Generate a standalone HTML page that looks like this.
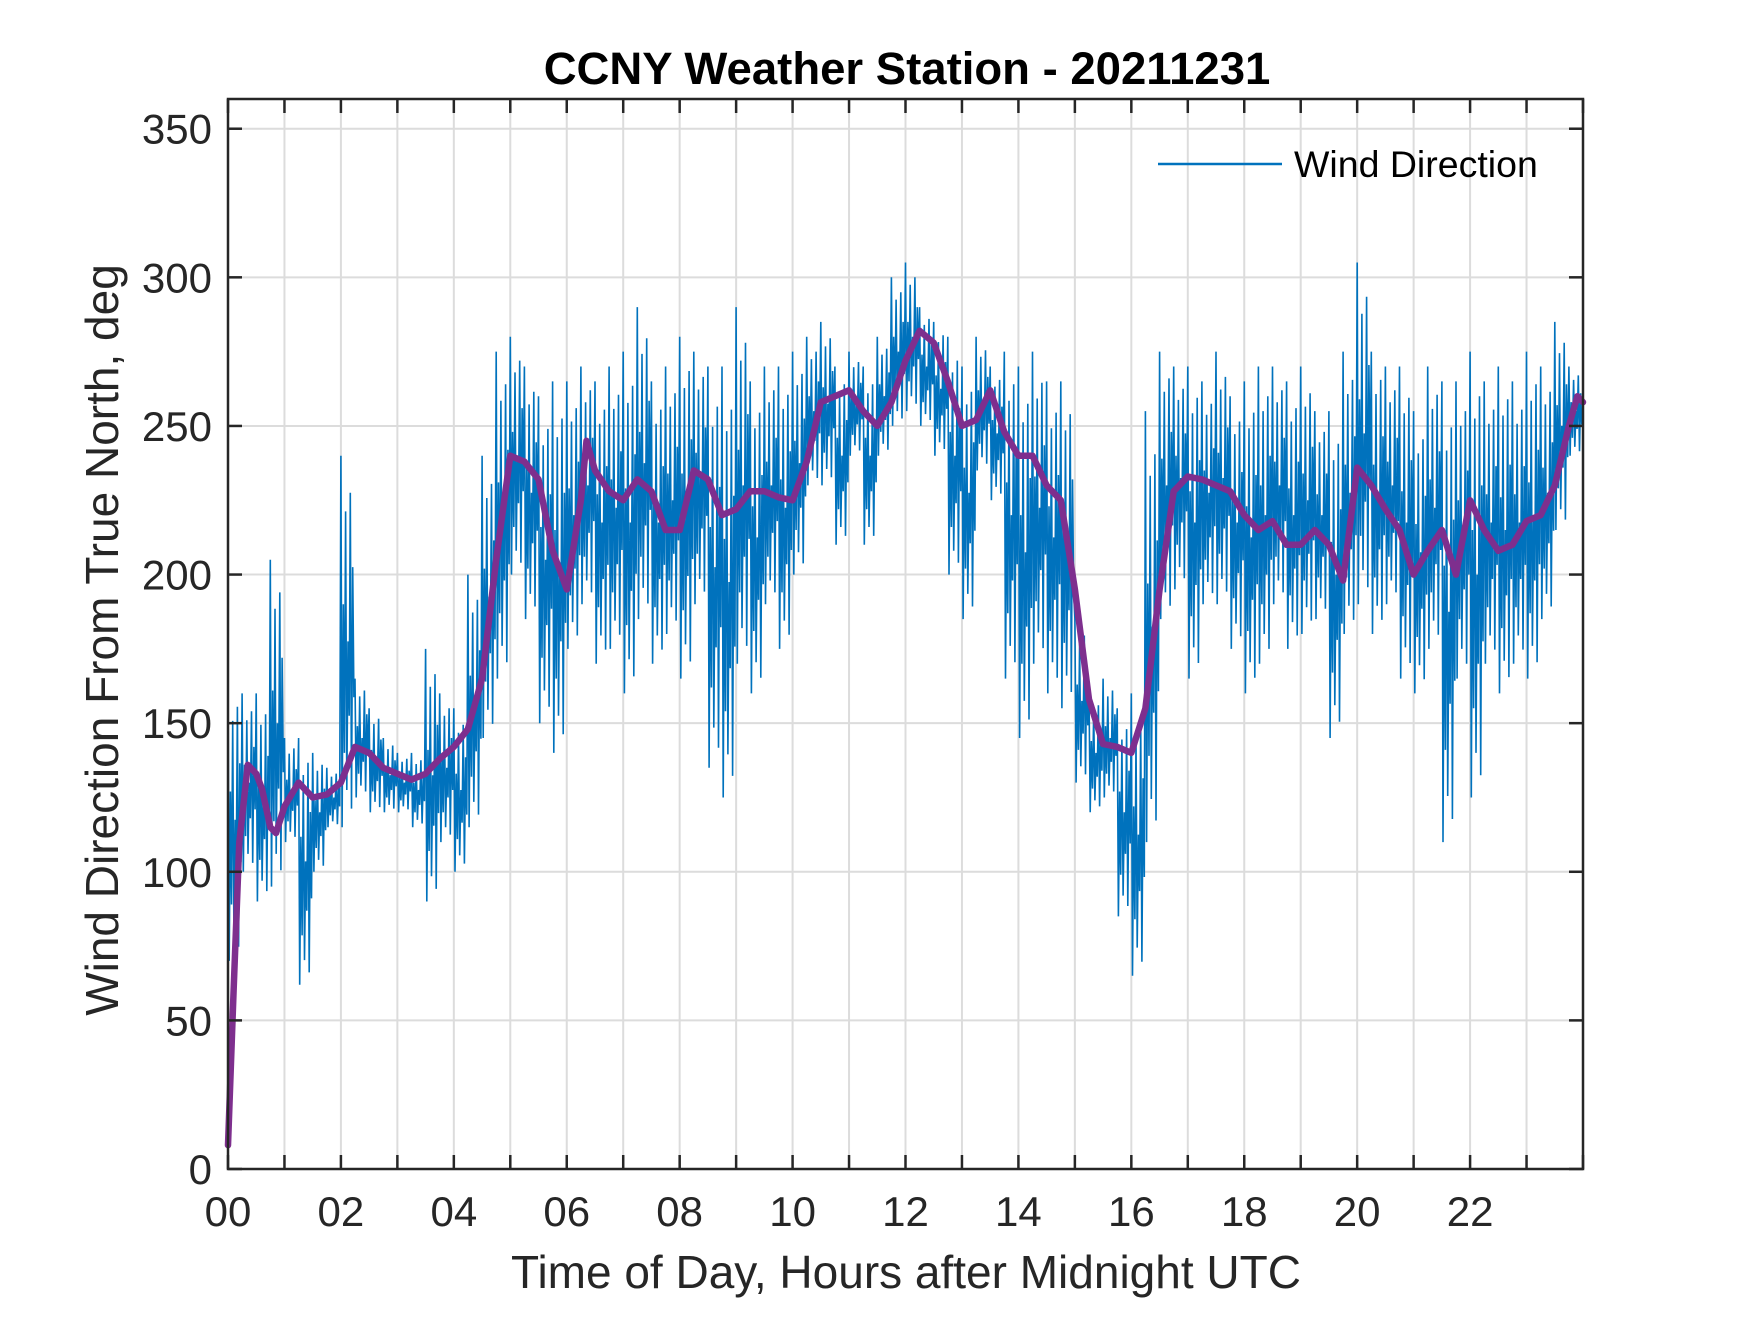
<!DOCTYPE html>
<html><head><meta charset="utf-8"><style>
html,body{margin:0;padding:0;background:#fff;}
svg text{font-family:"Liberation Sans",sans-serif;fill:#262626;}
</style></head><body>
<svg id="chart" width="1750" height="1313" viewBox="0 0 1750 1313" xmlns="http://www.w3.org/2000/svg">
<rect width="1750" height="1313" fill="#fff"/>
<g id="grid"></g>
<g id="plot"></g>
<g id="axes"></g>
<text x="907" y="84" text-anchor="middle" font-size="45.5" font-weight="bold" style="fill:#000">CCNY Weather Station - 20211231</text>
<text x="906" y="1288" text-anchor="middle" font-size="46">Time of Day, Hours after Midnight UTC</text>
<text transform="translate(118,640) rotate(-90)" text-anchor="middle" font-size="46">Wind Direction From True North, deg</text>
<g>
<line x1="1158" y1="164" x2="1282" y2="164" stroke="#0072BD" stroke-width="2.5"/>
<text x="1294" y="177" font-size="37.5" style="fill:#000">Wind Direction</text>
</g>
</svg>
<script>
const blueTimes=[0,0.25,0.5,0.75,1,1.25,1.5,1.75,2,2.25,2.5,2.75,3,3.25,3.5,3.75,4,4.25,4.5,4.75,5,5.25,5.5,5.75,6,6.25,6.5,6.75,7,7.25,7.5,7.75,8,8.25,8.5,8.75,9,9.25,9.5,9.75,10,10.25,10.5,10.75,11,11.25,11.5,11.75,12,12.25,12.5,12.75,13,13.25,13.5,13.75,14,14.25,14.5,14.75,15,15.25,15.5,15.75,16,16.25,16.5,16.75,17,17.25,17.5,17.75,18,18.25,18.5,18.75,19,19.25,19.5,19.75,20,20.25,20.5,20.75,21,21.25,21.5,21.75,22,22.25,22.5,22.75,23,23.25,23.5,23.75];
const blueHigh=[165,160,160,205,145,145,140,135,240,165,155,145,140,140,175,160,155,200,240,275,280,270,260,265,265,270,265,270,275,290,265,270,280,275,270,270,290,265,270,270,275,280,285,270,275,270,280,300,305,290,285,280,270,280,270,275,270,275,265,265,185,160,165,155,160,255,275,270,270,265,275,260,265,270,270,265,270,255,255,275,305,275,270,270,255,270,265,265,275,265,270,265,275,270,285,270];
const blueLow=[70,100,90,95,110,62,100,115,115,125,120,120,120,115,90,110,100,115,145,165,200,185,150,140,175,190,170,175,160,185,170,180,165,190,135,125,170,160,190,175,200,230,230,210,240,210,240,250,255,250,240,200,185,235,225,165,145,170,160,155,130,120,125,85,65,110,185,195,165,190,190,175,160,170,190,175,180,185,145,180,190,180,190,165,160,175,110,165,125,170,160,170,165,185,215,240];
const smoothTimes=[0,0.1,0.2,0.35,0.5,0.6,0.75,0.85,1,1.25,1.5,1.75,2,2.25,2.5,2.75,3,3.25,3.5,3.75,4,4.25,4.5,4.75,5,5.25,5.5,5.75,6,6.25,6.35,6.5,6.75,7,7.25,7.5,7.75,8,8.25,8.5,8.75,9,9.25,9.5,9.75,10,10.25,10.5,10.75,11,11.25,11.5,11.75,12,12.25,12.5,12.75,13,13.25,13.5,13.75,14,14.25,14.5,14.75,15,15.25,15.5,15.75,16,16.25,16.5,16.75,17,17.25,17.5,17.75,18,18.25,18.5,18.75,19,19.25,19.5,19.75,20,20.25,20.5,20.75,21,21.25,21.5,21.75,22,22.25,22.5,22.75,23,23.25,23.5,23.75,23.9,24];
const smoothValues=[8,60,110,136,133,128,115,113,122,130,125,126,130,142,140,135,133,131,133,138,142,148,165,205,240,238,232,208,195,225,245,235,228,225,232,228,215,215,235,232,220,222,228,228,226,225,238,258,260,262,255,250,258,272,282,278,265,250,252,262,248,240,240,230,225,195,158,143,142,140,155,195,228,233,232,230,228,220,215,218,210,210,215,210,198,236,230,222,215,200,208,215,200,225,215,208,210,218,220,230,250,260,258];
const xTickLabels=["00","02","04","06","08","10","12","14","16","18","20","22"];
const yTickValues=[0,50,100,150,200,250,300,350];
const zigPattern=[1,0,0.6,0.2,0.85,0.1,0.5,0.3,0.9,0.05,0.7,0.35];

const L=228,R=1583,T=99,B=1169,XMAX=24,YMAX=360;
const xs=t=>L+(R-L)*t/XMAX;
const ys=v=>B-(B-T)*v/YMAX;
const NS="http://www.w3.org/2000/svg";
function mk(tag,parent,attrs){const e=document.createElementNS(NS,tag);for(const k in attrs)e.setAttribute(k,attrs[k]);parent.appendChild(e);return e;}
const grid=document.getElementById('grid'),plot=document.getElementById('plot'),axes=document.getElementById('axes');
for(let h=1;h<24;h++){const g=mk('line',grid,{x1:xs(h),x2:xs(h),y1:T,y2:B,stroke:'#dcdcdc','stroke-width':2});

}
yTickValues.forEach(v=>{if(v>0){const g=mk('line',grid,{x1:L,x2:R,y1:ys(v),y2:ys(v),stroke:'#dcdcdc','stroke-width':2});

}});
let pts=[];
for(let i=0;i<blueTimes.length;i++){const t0=blueTimes[i],dt=0.25;
for(let k=0;k<zigPattern.length;k++){const f=zigPattern[k];const v=blueLow[i]+(blueHigh[i]-blueLow[i])*f;pts.push(xs(t0+dt*k/zigPattern.length).toFixed(1)+','+ys(v).toFixed(1));}}
const bl=mk('polyline',plot,{points:pts.join(' '),fill:'none',stroke:'#0072BD','stroke-width':1.6,'stroke-linejoin':'miter'});


const sp=smoothTimes.map((t,i)=>xs(t).toFixed(1)+','+ys(smoothValues[i]).toFixed(1)).join(' ');
const pl=mk('polyline',plot,{points:sp,fill:'none',stroke:'#7E2F8E','stroke-width':6.5,'stroke-linejoin':'round','stroke-linecap':'round'});


const box=mk('rect',axes,{x:L,y:T,width:R-L,height:B-T,fill:'none',stroke:'#262626','stroke-width':2.5});


for(let h=0;h<=24;h++){
const a=mk('line',axes,{x1:xs(h),x2:xs(h),y1:B,y2:B-14,stroke:'#262626','stroke-width':2.5});


const b=mk('line',axes,{x1:xs(h),x2:xs(h),y1:T,y2:T+14,stroke:'#262626','stroke-width':2.5});

}
xTickLabels.forEach((lab,i)=>{const tx=mk('text',axes,{x:xs(i*2),y:1226,'text-anchor':'middle','font-size':42});tx.textContent=lab;

});
yTickValues.forEach(v=>{
const a=mk('line',axes,{x1:L,x2:L+14,y1:ys(v),y2:ys(v),stroke:'#262626','stroke-width':2.5});


const b=mk('line',axes,{x1:R,x2:R-14,y1:ys(v),y2:ys(v),stroke:'#262626','stroke-width':2.5});


const tx=mk('text',axes,{x:212,y:ys(v)+15,'text-anchor':'end','font-size':42});tx.textContent=v;

});
</script>
</body></html>
